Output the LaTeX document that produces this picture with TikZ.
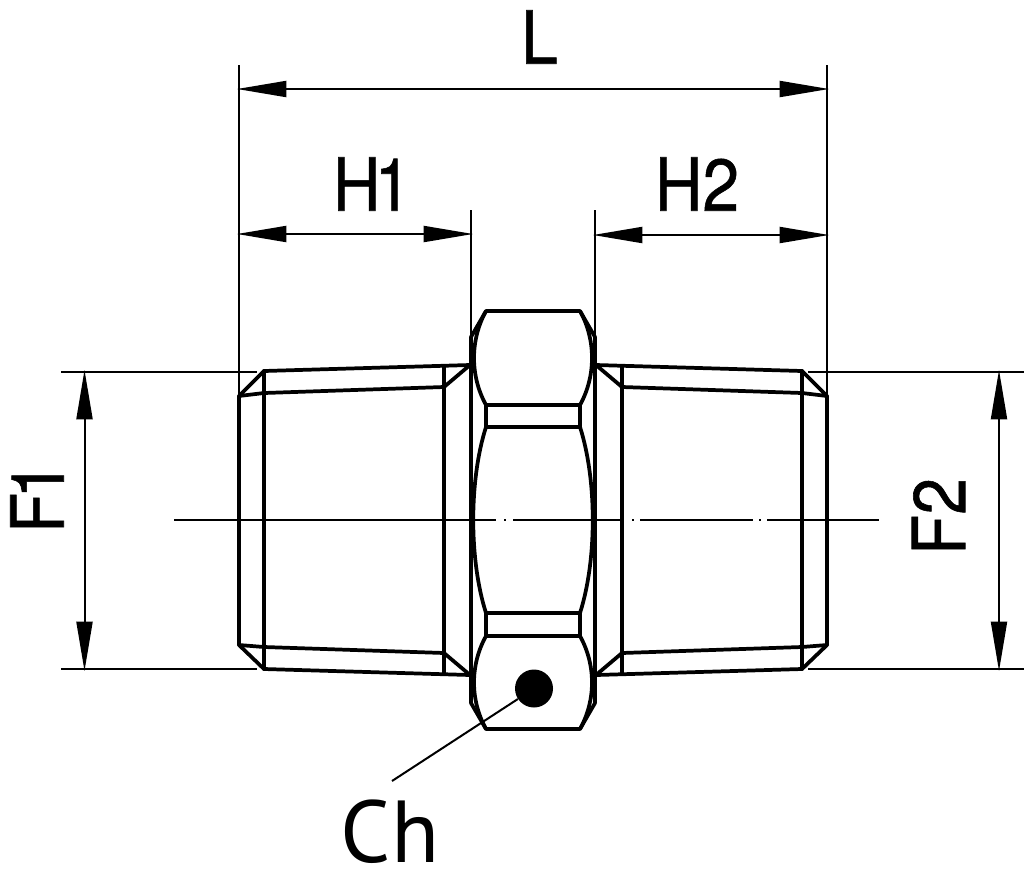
\documentclass[tikz,border=0pt]{standalone}
\usepackage{fontspec}
\setmainfont{TeX Gyre Heros}
\newfontfamily\dimfont[FakeBold=0.8]{TeX Gyre Heros}
\newfontfamily\chfont{PT Sans}
\usetikzlibrary{arrows.meta}
\tikzset{
  bodyline/.style={line width=2.8pt,line join=round,line cap=round},
  dimline/.style={line width=1.5pt},
  dimarrow/.style={line width=1.5pt,shorten >=-1.5pt,shorten <=-1.5pt,{Triangle[length=37pt,width=12pt]}-{Triangle[length=37pt,width=12pt]}},
  dimlabel/.style={inner sep=0pt,font=\dimfont\fontsize{55}{56}\selectfont}
}
\newcommand{\narrowtxt}[1]{\scalebox{0.9}[1]{#1}}

\begin{document}
\begin{tikzpicture}[x=0.75pt,y=0.75pt,yscale=-1,xscale=1]
\useasboundingbox (0,0) rectangle (1024,886);

%Left thread
\draw[bodyline] (470,365) -- (264,371) -- (239,396) -- (239,645) -- (264,669) -- (470,675) ;
\draw[bodyline] (239,396) -- (264,393) -- (444,387) -- (470,365) ;
\draw[bodyline] (239,645) -- (264,647) -- (444,653) -- (470,675) ;
\draw[bodyline] (264,371) -- (264,669) ;
\draw[bodyline] (444,366) -- (444,674) ;
%Right thread
\draw[bodyline] (596,365) -- (802,371) -- (827,396) -- (827,645) -- (802,669) -- (596,675) ;
\draw[bodyline] (827,396) -- (802,393) -- (622,387) -- (596,365) ;
\draw[bodyline] (827,645) -- (802,647) -- (622,653) -- (596,675) ;
\draw[bodyline] (802,371) -- (802,669) ;
\draw[bodyline] (622,366) -- (622,674) ;
%Hexagon outline
\draw[bodyline] (471,337) -- (486,311) -- (580,311) -- (595,337) -- (595,703) -- (580,729) -- (486,729) -- (471,703) -- cycle ;
\draw[bodyline] (486,405) -- (580,405) ;
\draw[bodyline] (486,427) -- (580,427) ;
\draw[bodyline] (486,613) -- (580,613) ;
\draw[bodyline] (486,636) -- (580,636) ;
%Hexagon left curves
\draw[bodyline] (486,311) .. controls (470,340) and (470,376) .. (486,405) -- (486,427) .. controls (469,480) and (469,560) .. (486,613) -- (486,636) .. controls (470,665) and (470,700) .. (486,729) ;
%Hexagon right curves
\draw[bodyline] (580,311) .. controls (596,340) and (596,376) .. (580,405) -- (580,427) .. controls (597,480) and (597,560) .. (580,613) -- (580,636) .. controls (596,665) and (596,700) .. (580,729) ;
%Centre line
\coordinate (axisleft) at (174,520);
\coordinate (axisright) at (880,520);
\draw[dimline,dash pattern=on 241.5pt off 6pt on 1.5pt off 5.5pt on 83pt off 6pt on 1.5pt off 4.5pt on 85pt off 4.5pt on 1.5pt off 4.5pt on 84pt off 100pt] (axisleft) -- (axisright) ;

%Extension lines
\coordinate (exta) at (239,65);
\coordinate (extb) at (239,396);
\coordinate (extc) at (827,65);
\coordinate (extd) at (827,396);
\coordinate (exte) at (471,210);
\coordinate (extf) at (471,337);
\coordinate (extg) at (595,210);
\coordinate (exth) at (595,337);
\draw[dimline] (exta) -- (extb) ;
\draw[dimline] (extc) -- (extd) ;
\draw[dimline] (exte) -- (extf) ;
\draw[dimline] (extg) -- (exth) ;
\coordinate (extk) at (61,372);
\coordinate (extl) at (257,372);
\coordinate (extm) at (61,669);
\coordinate (extn) at (257,669);
\coordinate (extp) at (808,372);
\coordinate (extq) at (1024,372);
\coordinate (extr) at (808,669);
\coordinate (exts) at (1024,669);
\draw[dimline] (extk) -- (extl) ;
\draw[dimline] (extm) -- (extn) ;
\draw[dimline] (extp) -- (extq) ;
\draw[dimline] (extr) -- (exts) ;

%Dimension arrows
\coordinate (lenleft) at (239,89);
\coordinate (lenright) at (827,89);
\coordinate (hoaleft) at (239,234);
\coordinate (hoaright) at (471,234);
\coordinate (htwoleft) at (595,235);
\coordinate (htworight) at (827,235);
\coordinate (foatop) at (84.5,372);
\coordinate (foabot) at (84.5,669);
\coordinate (ftwotop) at (999,372);
\coordinate (ftwobot) at (999,669);
\draw[dimarrow] (lenleft) -- (lenright) ;
\draw[dimarrow] (hoaleft) -- (hoaright) ;
\draw[dimarrow] (htwoleft) -- (htworight) ;
\draw[dimarrow] (foatop) -- (foabot) ;
\draw[dimarrow] (ftwotop) -- (ftwobot) ;

%Wrench flat mark
\node[circle,fill=black,inner sep=0pt,minimum size=28.5pt] (hole) at (534,688.5) {};
\coordinate (leadend) at (392,781);
\draw[dimline] (hole) -- (leadend) ;

% Text Node
\node[dimlabel] (lenlabel) at (539.5,37) {\narrowtxt{L}};
% Text Node
\node[dimlabel] (hoalabel) at (372,184) {\narrowtxt{H\kern-5pt 1}};
% Text Node
\node[dimlabel] (htwolabel) at (697,184) {\narrowtxt{H2}};
% Text Node
\node[dimlabel,rotate=90] (foalabel) at (37,497.5) {\narrowtxt{F\kern-5pt 1}};
% Text Node
\node[dimlabel,rotate=90] (ftwolabel) at (938.5,516.5) {\narrowtxt{F2}};
% Text Node
\node[inner sep=0pt,font=\chfont\fontsize{66}{68}\selectfont] (chlabel) at (390,832) {Ch};
\end{tikzpicture}
\end{document}
